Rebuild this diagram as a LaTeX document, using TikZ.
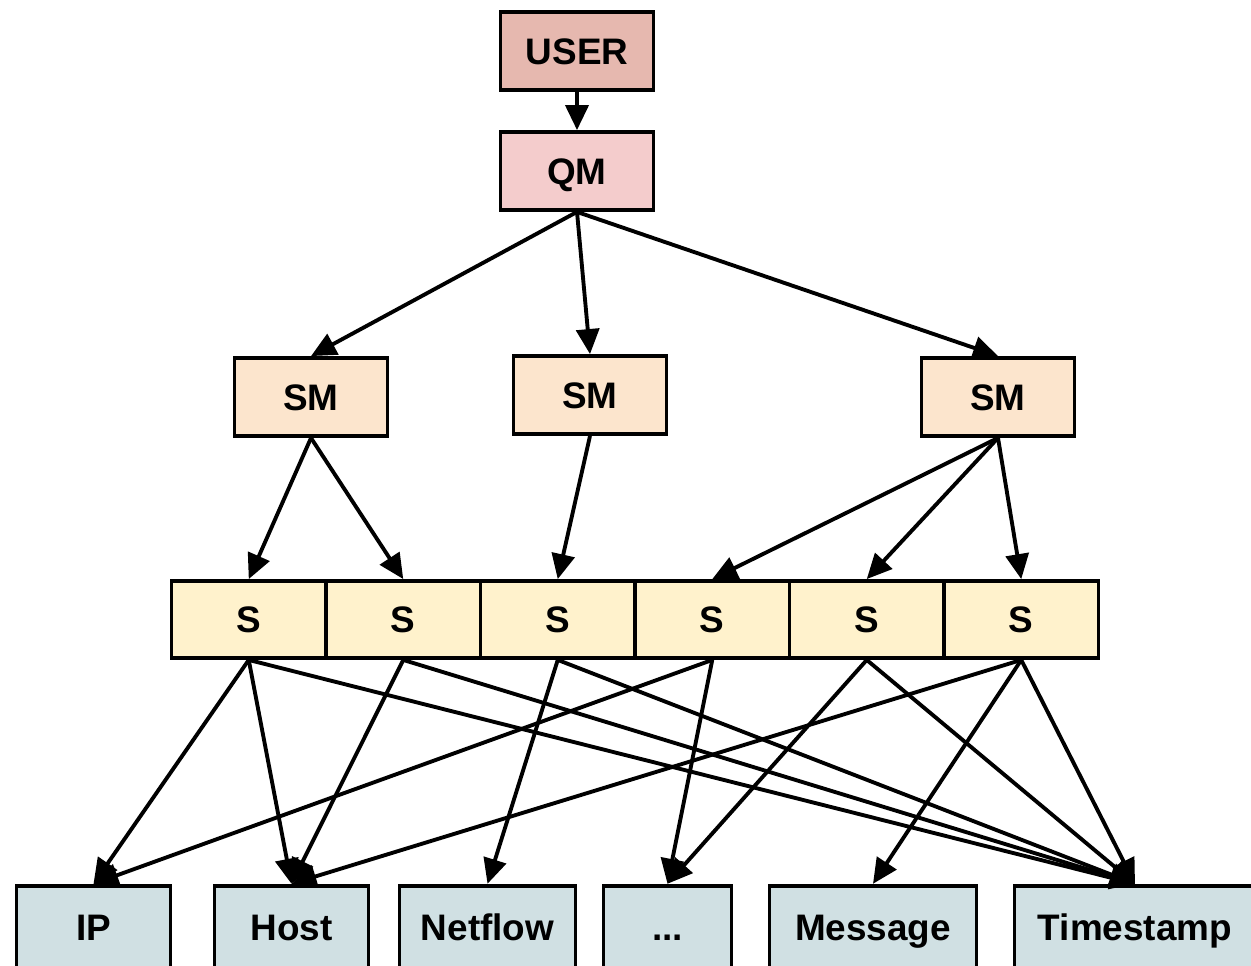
\documentclass[tikz,border=0pt]{standalone}
\usepackage{fontspec}
\setmainfont{Liberation Sans}
\usetikzlibrary{arrows.meta}
\definecolor{userFill}{HTML}{E6B8AF}
\definecolor{qmFill}{HTML}{F4CCCC}
\definecolor{smFill}{HTML}{FCE5CD}
\definecolor{sFill}{HTML}{FFF2CC}
\definecolor{fieldFill}{HTML}{D0E0E3}

\begin{document}
\begin{tikzpicture}
[x=0.02cm,y=-0.02cm,
  lineDecorate/.style={-{Triangle[length=0.5cm,width=0.46cm]},line width=2.2pt},%
  nodeDecorate/.style={shape=rectangle,draw,line width=2.2pt,inner sep=0pt,
    text height=15pt,text depth=0pt,font=\fontsize{21}{25}\selectfont\bfseries}]
\useasboundingbox (0,0) rectangle (1251,965);
%% managers
\node (user) at (577,51) [nodeDecorate,fill=userFill,minimum width=3.06cm,minimum height=1.56cm] {USER};
\node (qm) at (577,171) [nodeDecorate,fill=qmFill,minimum width=3.06cm,minimum height=1.56cm] {QM};
\foreach \nodename/\x/\y in {sm1/311/397, sm2/590/395, sm3/998/397}
{
  \node (\nodename) at (\x,\y) [nodeDecorate,fill=smFill,minimum width=3.06cm,minimum height=1.56cm] {SM};
}
%% S row
\foreach \nodename/\x in {s1/248.75, s2/403.25, s3/557.75, s4/712.25, s5/866.75, s6/1021.25}
{
  \node (\nodename) at (\x,619.5) [nodeDecorate,fill=sFill,minimum width=3.09cm,minimum height=1.54cm] {S};
}
%% fields
\foreach \nodename/\x/\w/\txt in {ip/93.5/3.08/IP, host/291.5/3.08/Host, net/487.5/3.52/Netflow,
  msg/873/4.14/Message, ts/1135/4.82/Timestamp}
{
  \node (\nodename) at (\x,927.7) [nodeDecorate,fill=fieldFill,minimum width=\w cm,minimum height=1.68cm] {\txt};
}
\node (more) at (667.5,927.7) [nodeDecorate,fill=fieldFill,minimum width=2.56cm,minimum height=1.68cm] {...};
%% arrows
\path
\foreach \startnode/\endnode in {
  user/qm, qm/sm1, qm/sm2, qm/sm3,
  sm1/s1, sm1/s2, sm2/s3, sm3/s4, sm3/s5, sm3/s6,
  s1/ip, s1/host, s1/ts, s2/host, s2/ts, s3/net, s3/ts,
  s4/ip, s4/more, s5/more, s5/ts, s6/host, s6/msg, s6/ts}
{
  (\startnode.south) edge[lineDecorate] (\endnode.north)
};
\end{tikzpicture}
\end{document}
